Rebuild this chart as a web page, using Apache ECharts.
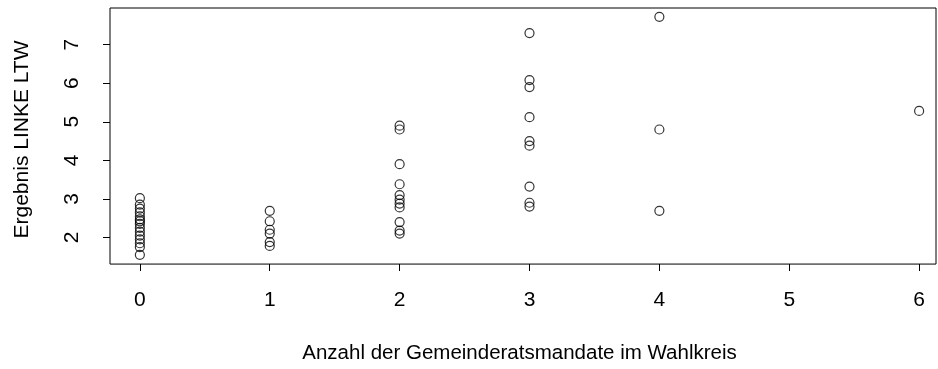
<!DOCTYPE html>
<html>
<head>
<meta charset="utf-8">
<script src="https://cdn.jsdelivr.net/npm/echarts@6/dist/echarts.min.js"></script>
<style>html,body{margin:0;padding:0;background:#fff;}#c{width:938px;height:369px;}</style>
</head>
<body>
<div id="c"></div>
<script>
var xTicks = [0, 1, 2, 3, 4, 5, 6];
var yTicks = [2, 3, 4, 5, 6, 7];
var mandate = [
  0,0,0,0,0,0,0,0,0,0,0,0,0,0,0,
  1,1,1,1,1,1,
  2,2,2,2,2,2,2,2,2,2,2,
  3,3,3,3,3,3,3,3,3,
  4,4,4,
  6
];
var linkeLTW = [
  3.02, 2.85, 2.75, 2.65, 2.55, 2.47, 2.42, 2.35, 2.25, 2.15, 2.05, 1.95, 1.85, 1.75, 1.55,
  2.69, 2.42, 2.2, 2.1, 1.88, 1.78,
  4.9, 4.8, 3.9, 3.38, 3.1, 2.98, 2.88, 2.78, 2.4, 2.18, 2.1,
  7.3, 6.08, 5.9, 5.12, 4.5, 4.38, 3.32, 2.9, 2.8,
  7.72, 4.8, 2.69,
  5.28
];
var xTitle = 'Anzahl der Gemeinderatsmandate im Wahlkreis';
var yTitle = 'Ergebnis LINKE LTW';

var points = mandate.map(function (m, i) { return [m, linkeLTW[i]]; });
var font = 'Liberation Sans, Arial, sans-serif';
// plot box range (R style, 4% padding)
var boxXMin = -0.23, boxXMax = 6.13, boxYMin = 1.31, boxYMax = 7.95;
var tickLen = 7;
var pxPerX = 129.87, pxPerY = 39.0;
// axes extend a tick length beyond the box so outward ticks lie inside the grid
var axXMin = boxXMin - tickLen / pxPerX;
var axYMin = boxYMin - tickLen / pxPerY;

var chart = echarts.init(document.getElementById('c'), null, {renderer: 'canvas'});
chart.setOption({
  animation: false,
  grid: {left: 103, right: 2, top: 8, bottom: 95, show: false},
  xAxis: {
    type: 'value', min: axXMin, max: boxXMax,
    name: xTitle, nameLocation: 'middle', nameGap: 72,
    nameTextStyle: {fontFamily: font, fontSize: 20.5, color: '#000'},
    axisLine: {show: false, onZero: false},
    splitLine: {show: false},
    axisTick: {show: true, inside: true, length: tickLen, lineStyle: {color: '#000', width: 1}, customValues: xTicks},
    axisLabel: {fontFamily: font, fontSize: 21, color: '#000', margin: 19, customValues: xTicks}
  },
  yAxis: {
    type: 'value', min: axYMin, max: boxYMax,
    name: yTitle, nameLocation: 'middle', nameGap: 70, nameRotate: 90,
    nameTextStyle: {fontFamily: font, fontSize: 21, color: '#000'},
    axisLine: {show: false, onZero: false},
    splitLine: {show: false},
    axisTick: {show: true, inside: true, length: tickLen, lineStyle: {color: '#000', width: 1}, customValues: yTicks},
    axisLabel: {fontFamily: font, fontSize: 21, color: '#000', margin: 20, rotate: 90, customValues: yTicks}
  },
  series: [{
    type: 'scatter',
    clip: false,
    data: points,
    symbol: 'circle',
    symbolSize: 9,
    itemStyle: {color: 'rgba(0,0,0,0)', borderColor: '#000', borderWidth: 1.2},
    markArea: {
      silent: true,
      label: {show: false},
      itemStyle: {color: 'rgba(0,0,0,0)', borderColor: '#000', borderWidth: 1},
      data: [[{coord: [boxXMin, boxYMin]}, {coord: [boxXMax, boxYMax]}]]
    }
  }]
});
</script>
</body>
</html>
